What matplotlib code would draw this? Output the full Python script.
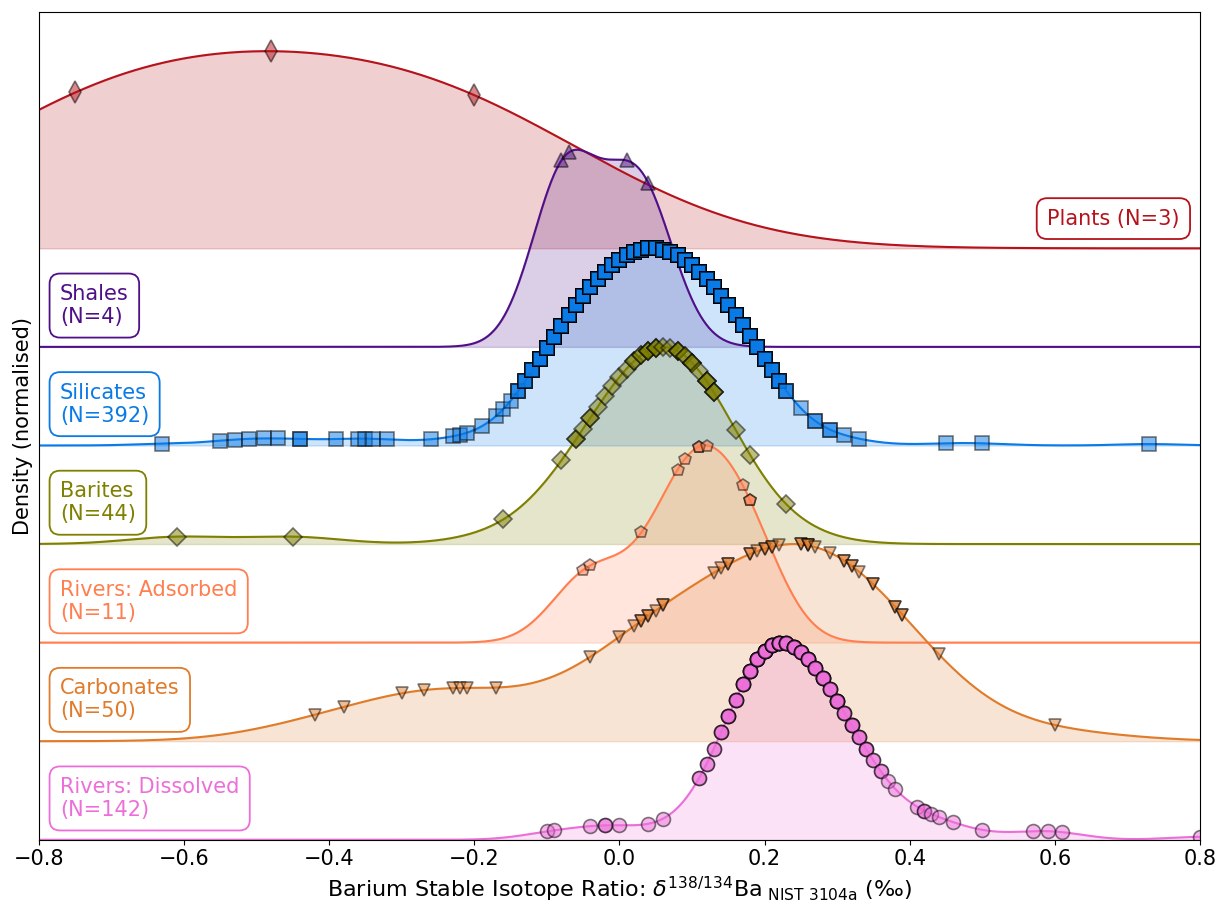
import numpy as np
import matplotlib.pyplot as plt

# Sample values (marker positions), with counts where markers pile up
plants = [-0.75, -0.48, -0.20]
shales = [-0.08, -0.07, 0.01, 0.04]

silicate_vals = [-0.63, -0.55, -0.53, -0.51, -0.49, -0.47, -0.44, -0.39, -0.36, -0.35,
                 -0.34, -0.32, -0.26, -0.23, -0.22, -0.21, -0.19, -0.17, -0.16, -0.15,
                 -0.14, -0.13, -0.12, -0.11, -0.10, -0.09, -0.08, -0.07, -0.06, -0.05,
                 -0.04, -0.03, -0.02, -0.01, 0.00, 0.01, 0.02, 0.03, 0.04, 0.05,
                 0.06, 0.07, 0.08, 0.09, 0.10, 0.11, 0.12, 0.13, 0.14, 0.15,
                 0.16, 0.17, 0.18, 0.19, 0.20, 0.21, 0.22, 0.23,
                 0.25, 0.27, 0.29, 0.31, 0.33, 0.45, 0.50, 0.73]
silicate_counts = [1, 1, 1, 1, 1, 1, 2, 1, 1, 1,
                   1, 1, 1, 1, 1, 1, 1, 1, 1, 1,
                   3, 4, 5, 6, 7, 7, 8, 9, 9, 10,
                   11, 11, 12, 12, 13, 13, 13, 13, 14, 14,
                   13, 13, 13, 13, 12, 12, 11, 11, 10, 9,
                   9, 8, 7, 7, 6, 5, 5, 3,
                   1, 2, 2, 1, 1, 1, 1, 1]

barite_vals = [-0.61, -0.45, -0.16, -0.08, -0.06, -0.05, -0.04, -0.03, -0.02, -0.01, 0.00,
               0.01, 0.02, 0.03, 0.04, 0.05, 0.06, 0.07, 0.08, 0.09, 0.10, 0.11, 0.12, 0.13,
               0.16, 0.18, 0.23]
barite_counts = [1, 1, 1, 1, 2, 1, 2, 1, 1, 1, 1,
                 1, 2, 2, 3, 3, 1, 1, 3, 2, 3, 1, 3, 3,
                 1, 1, 1]

adsorbed = [-0.05, -0.04, 0.03, 0.08, 0.09, 0.11, 0.11, 0.12, 0.17, 0.18, 0.18]

carbonate_vals = [-0.42, -0.38, -0.30, -0.27, -0.23, -0.22, -0.21, -0.17, -0.04,
                  0.00, 0.02, 0.03, 0.04, 0.05, 0.06, 0.13, 0.14, 0.15,
                  0.18, 0.19, 0.20, 0.21, 0.22, 0.25, 0.26, 0.27, 0.29,
                  0.31, 0.32, 0.33, 0.35, 0.38, 0.39, 0.44, 0.60]
carbonate_counts = [1, 1, 1, 1, 1, 1, 1, 1, 1,
                    1, 1, 2, 2, 1, 2, 1, 1, 2,
                    2, 1, 2, 2, 1, 2, 3, 1, 1,
                    2, 2, 1, 2, 2, 2, 1, 1]

dissolved_vals = [-0.10, -0.09, -0.04, -0.02, 0.00, 0.04, 0.06,
                  0.11, 0.12, 0.13, 0.14, 0.15, 0.16, 0.17, 0.18, 0.19, 0.20, 0.21, 0.22,
                  0.23, 0.24, 0.25, 0.26, 0.27, 0.28, 0.29, 0.30, 0.31, 0.32, 0.33, 0.34,
                  0.35, 0.36, 0.37, 0.38, 0.41, 0.42, 0.43, 0.44, 0.46,
                  0.50, 0.57, 0.59, 0.61, 0.80]
dissolved_counts = [1, 1, 1, 2, 1, 1, 1,
                    2, 2, 2, 3, 4, 4, 5, 6, 7, 8, 8, 8,
                    6, 7, 5, 6, 5, 6, 4, 6, 3, 4, 3, 3,
                    2, 2, 1, 1, 1, 2, 1, 1, 1,
                    1, 1, 1, 1, 1]

silicates = np.repeat(silicate_vals, silicate_counts)
barites = np.repeat(barite_vals, barite_counts)
carbonates = np.repeat(carbonate_vals, carbonate_counts)
dissolved = np.repeat(dissolved_vals, dissolved_counts)

# name, sample, colour, marker, marker size (top ridge first)
groups = [
    ('Plants', plants, '#b5121b', 'd', 11),
    ('Shales', shales, '#4f1087', '^', 10),
    ('Silicates', silicates, '#0a7ae6', 's', 10),
    ('Barites', barites, '#7f7f00', 'D', 9),
    ('Rivers: Adsorbed', adsorbed, '#ff7f50', 'p', 9),
    ('Carbonates', carbonates, '#e07b2a', 'v', 9),
    ('Rivers: Dissolved', dissolved, '#ec6fd9', 'o', 10),
]


def kde(sample, x):
    # gaussian kernel density, Scott's rule bandwidth
    sample = np.asarray(sample, dtype=float)
    bw = sample.std(ddof=1) * len(sample) ** (-1 / 5)
    z = (x[:, None] - sample[None, :]) / bw
    return np.exp(-0.5 * z ** 2).sum(axis=1)


fig, ax = plt.subplots(figsize=(12.17, 9.02), dpi=100)
fig.subplots_adjust(left=0.032, right=0.986, bottom=0.069, top=0.987)

grid = np.linspace(-0.8, 0.8, 1200)
for i, (name, sample, color, marker, ms) in enumerate(groups):
    base = len(groups) - 1 - i
    dens = kde(sample, grid)
    peak = dens.max()
    curve = base + 2 * dens / peak
    ax.fill_between(grid, base, curve, color=color, alpha=0.2)
    ax.plot(grid, curve, color=color, lw=1.5)
    pts = base + 2 * kde(sample, np.asarray(sample, dtype=float)) / peak
    ax.plot(sample, pts, ls='none', marker=marker, ms=ms, mfc=color, mec='k',
            mew=1.2, alpha=0.5)

    box = dict(boxstyle='round,pad=0.5', fc='white', ec=color, lw=1.3)
    if name == 'Plants':
        ax.text(0.772, base + 0.2, f'{name} (N={len(sample)})', color=color,
                fontsize=15, ha='right', va='bottom', bbox=box)
    else:
        ax.text(-0.771, base + 0.2, f'{name}\n(N={len(sample)})', color=color,
                fontsize=15, ha='left', va='bottom', bbox=box)

ax.set_xlim(-0.8, 0.8)
ax.set_ylim(0, 8.4)
ax.set_yticks([])
ax.tick_params(axis='x', labelsize=15)
ax.set_xlabel(r'Barium Stable Isotope Ratio: $\delta^{138/134}$Ba$_{\ \mathrm{NIST\ 3104a}}$ (‰)',
              fontsize=16)
ax.set_ylabel('Density (normalised)', fontsize=15)

fig.savefig('out.png', dpi=100)
